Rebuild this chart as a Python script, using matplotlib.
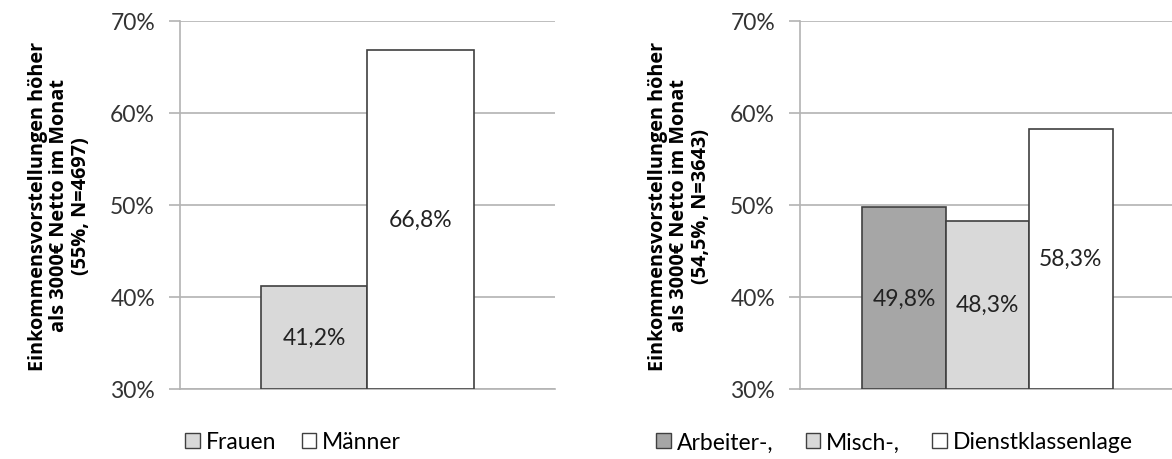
import matplotlib.pyplot as plt
from matplotlib.patches import Patch

plt.rcParams['font.family'] = ['Lato', 'DejaVu Sans']

# ----- Data -----
gender_labels = ["Frauen", "Männer"]
gender_values = [41.2, 66.8]
gender_colors = ["#d9d9d9", "#ffffff"]

class_labels = ["Arbeiter-,", "Misch-,", "Dienstklassenlage"]
class_values = [49.8, 48.3, 58.3]
class_colors = ["#a6a6a6", "#d9d9d9", "#ffffff"]

yticks = [30, 40, 50, 60, 70]
ylabel_left = "Einkommensvorstellungen höher\nals 3000€ Netto im Monat\n(55%, N=4697)"
ylabel_right = "Einkommensvorstellungen höher\nals 3000€ Netto im Monat\n(54,5%, N=3643)"

W, H = 1172, 460
fig = plt.figure(figsize=(W / 100, H / 100), dpi=100)

grid_c = "#b3b3b3"
edge_c = "#404040"
fs = 16.5


def panel(rect, labels, values, colors, ylabel, xlim, leg_anchor, leg_spacing):
    ax = fig.add_axes(rect)
    for i, (lab, v, c) in enumerate(zip(labels, values, colors)):
        ax.bar(i, v - 30, bottom=30, width=1.0, color=c, edgecolor=edge_c,
               linewidth=1.2, zorder=3)
        ax.text(i, 30 + (v - 30) / 2, f"{v:.1f}%".replace(".", ","),
                ha="center", va="center", fontsize=fs, color="#222222", zorder=4)
    ax.set_ylim(30, 70)
    ax.set_xlim(*xlim)
    ax.set_yticks(yticks)
    ax.set_yticklabels([f"{t}%" for t in yticks], fontsize=fs, color="#333333")
    ax.set_xticks([])
    ax.yaxis.grid(True, color=grid_c, linewidth=1.2, zorder=0)
    ax.tick_params(axis="y", length=8, width=1.2, color=grid_c, pad=10)
    for s in ["top", "right"]:
        ax.spines[s].set_visible(False)
    ax.spines["left"].set_color(grid_c)
    ax.spines["left"].set_linewidth(1.2)
    ax.spines["bottom"].set_color(grid_c)
    ax.spines["bottom"].set_linewidth(1.2)
    ax.set_ylabel(ylabel, fontsize=14.3, fontweight="bold", labelpad=14,
                  linespacing=1.1, family=["Open Sans", "DejaVu Sans"])
    handles = [Patch(facecolor=c, edgecolor=edge_c, linewidth=1.0) for c in colors]
    fig.legend(handles, labels, loc="center left", bbox_to_anchor=leg_anchor,
               ncol=len(labels), frameon=False, fontsize=fs,
               handlelength=0.65, handleheight=0.65, handletextpad=0.25,
               columnspacing=leg_spacing, borderaxespad=0)
    return ax


bottom = 70 / H
height = 368 / H
panel([180 / W, bottom, 375 / W, height], gender_labels, gender_values,
      gender_colors, ylabel_left, (-1.258, 2.263), (176 / W, 1 - 443 / H), 1.1)
panel([800 / W, bottom, 372 / W, height], class_labels, class_values,
      class_colors, ylabel_right, (-1.245, 3.21), (647 / W, 1 - 443 / H), 1.4)

fig.savefig("out.png", dpi=100)
